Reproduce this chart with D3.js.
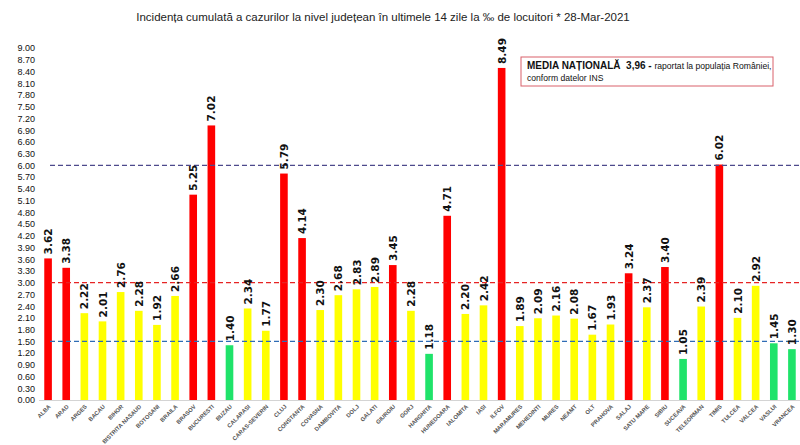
<!DOCTYPE html>
<html>
<head>
<meta charset="utf-8">
<script src="https://cdn.jsdelivr.net/npm/d3@7"></script>
<style>
body { margin: 0; background: #fff; }
svg { display: block; }
</style>
</head>
<body>
<script>
var judete = ['ALBA','ARAD','ARGES','BACAU','BIHOR','BISTRITA NASAUD','BOTOSANI','BRAILA','BRASOV','BUCURESTI',
	'BUZAU','CALARASI','CARAS-SEVERIN','CLUJ','CONSTANTA','COVASNA','DAMBOVITA','DOLJ','GALATI','GIURGIU',
	'GORJ','HARGHITA','HUNEDOARA','IALOMITA','IASI','ILFOV','MARAMURES','MEHEDINTI','MURES','NEAMT',
	'OLT','PRAHOVA','SALAJ','SATU MARE','SIBIU','SUCEAVA','TELEORMAN','TIMIS','TULCEA','VALCEA','VASLUI','VRANCEA'];
var incidenta = [3.62,3.38,2.22,2.01,2.76,2.28,1.92,2.66,5.25,7.02,
	1.40,2.34,1.77,5.79,4.14,2.30,2.68,2.83,2.89,3.45,
	2.28,1.18,4.71,2.20,2.42,8.49,1.89,2.09,2.16,2.08,
	1.67,1.93,3.24,2.37,3.40,1.05,2.39,6.02,2.10,2.92,1.45,1.30];
var yTicks = d3.range(0, 31).map(function(i) { return +(i * 0.3).toFixed(2); });
var praguri = [1.5, 3.0, 6.0];

var width = 800, height = 445,
	plotLeft = 39, plotRight = 801, plotTop = 48, plotBottom = 400;

var svg = d3.select('body').append('svg')
	.attr('width', width)
	.attr('height', height);

var x = d3.scaleBand().domain(judete).range([plotLeft, plotRight]).paddingInner(0.58).paddingOuter(0.29);
var y = d3.scaleLinear().domain([0, 9]).range([plotBottom, plotTop]);

var culoare = function(v) {
	if (v >= 3) return '#ff0000';
	if (v >= 1.5) return '#ffff00';
	return '#1fe36a';
};
var culoareLinie = { 1.5: '#2f6cb5', 3: '#e62424', 6: '#4d4a8c' };

// titlu
svg.append('text')
	.attr('x', 383).attr('y', 21)
	.attr('text-anchor', 'middle')
	.attr('font-family', 'Liberation Sans Narrow, Liberation Sans, sans-serif')
	.attr('font-size', 11.5)
	.attr('fill', '#222')
	.text('Incidența cumulată a cazurilor la nivel județean în ultimele 14 zile la ‰ de locuitori * 28-Mar-2021');

// axa y
var yAxis = svg.append('g')
	.attr('transform', 'translate(35,0)')
	.call(d3.axisLeft(y).tickValues(yTicks).tickFormat(d3.format('.2f')).tickSize(0).tickPadding(0));
yAxis.select('.domain').remove();
yAxis.selectAll('text')
	.attr('font-family', 'Liberation Sans Narrow, Liberation Sans, sans-serif')
	.attr('font-size', 9)
	.attr('fill', '#111');

// axa x (linie de baza)
svg.append('line')
	.attr('x1', plotLeft).attr('x2', 800)
	.attr('y1', y(0) + 0.5).attr('y2', y(0) + 0.5)
	.attr('stroke', '#d4d4d4')
	.attr('stroke-width', 1);

// bare
svg.selectAll('rect.bar')
	.data(incidenta)
	.enter().append('rect')
	.attr('class', 'bar')
	.attr('x', function(d, i) { return x(judete[i]); })
	.attr('width', x.bandwidth())
	.attr('y', function(d) { return y(d); })
	.attr('height', function(d) { return y(0) - y(d); })
	.attr('fill', culoare);

// linii prag
svg.selectAll('line.prag')
	.data(praguri)
	.enter().append('line')
	.attr('class', 'prag')
	.attr('x1', 50).attr('x2', 800)
	.attr('y1', function(d) { return y(d); })
	.attr('y2', function(d) { return y(d); })
	.attr('stroke', function(d) { return culoareLinie[d]; })
	.attr('stroke-width', 1.4)
	.attr('stroke-dasharray', '5,3');

// etichete valori
svg.selectAll('text.val')
	.data(incidenta)
	.enter().append('text')
	.attr('class', 'val')
	.attr('transform', function(d, i) {
		return 'translate(' + (x(judete[i]) + x.bandwidth() / 2 + 4) + ',' + (y(d) - 4) + ') rotate(-90)';
	})
	.attr('font-family', 'DejaVu Sans, sans-serif')
	.attr('font-size', 10.5)
	.attr('font-weight', 'bold')
	.attr('fill', '#111')
	.text(function(d) { return d.toFixed(2); });

// etichete judete
svg.selectAll('text.cat')
	.data(judete)
	.enter().append('text')
	.attr('class', 'cat')
	.attr('transform', function(d) {
		return 'translate(' + (x(d) + x.bandwidth() / 2 + 3) + ',' + 407 + ') rotate(-45)';
	})
	.attr('text-anchor', 'end')
	.attr('font-family', 'Liberation Sans, sans-serif')
	.attr('font-size', 5.8)
	.attr('font-weight', 'bold')
	.attr('fill', '#555')
	.text(function(d) { return d; });

// caseta media nationala
svg.append('rect')
	.attr('x', 521).attr('y', 57)
	.attr('width', 252).attr('height', 29)
	.attr('fill', '#fff')
	.attr('stroke', '#d9606a')
	.attr('stroke-width', 1);
var m = svg.append('text')
	.attr('x', 527).attr('y', 69)
	.attr('font-family', 'Liberation Sans, sans-serif')
	.attr('font-size', 8.6)
	.attr('fill', '#111');
m.append('tspan').attr('font-weight', 'bold').attr('font-size', 10).text('MEDIA NAȚIONALĂ\u00a0\u00a03,96 - ');
m.append('tspan').text('raportat la populația României,');
svg.append('text')
	.attr('x', 527).attr('y', 81)
	.attr('font-family', 'Liberation Sans, sans-serif')
	.attr('font-size', 8.6)
	.attr('fill', '#111')
	.text('conform datelor INS');
</script>
</body>
</html>
